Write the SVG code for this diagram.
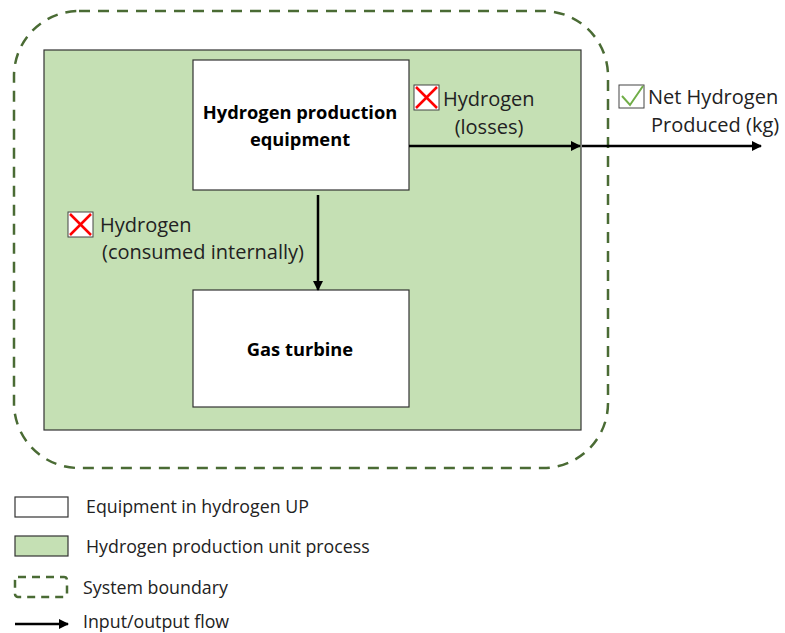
<svg xmlns="http://www.w3.org/2000/svg" width="785" height="633" viewBox="0 0 785 633">
<style>
text{font-family:"Open Sans","Liberation Sans",sans-serif;fill:#222;}
.lbl{font-size:20px;}
.leg{font-size:17.8px;}
.bold{font-size:18.3px;font-weight:bold;fill:#000;}
.eq{fill:#fff;stroke:#333;stroke-width:1.2;}
.up{fill:#c5e0b4;stroke:#333;stroke-width:1.2;}
.bd{fill:none;stroke:#4a6b34;stroke-width:2.5;stroke-dasharray:11,8;}
.flow{stroke:#000;stroke-width:2.5;fill:none;}
.xb{fill:#fff;stroke:#444;stroke-width:1;}
.xl{stroke:#ff0000;stroke-width:2.5;}
</style>
<defs>
<marker id="ah" markerWidth="10" markerHeight="10" refX="9" refY="5" orient="auto" markerUnits="userSpaceOnUse" viewBox="0 0 10 10">
<path d="M0,0 L10,5 L0,10 z" fill="#000"/>
</marker>
<g id="xmark">
<rect class="xb" x="0" y="0" width="25" height="25"/>
<line class="xl" x1="2" y1="2" x2="23" y2="23"/>
<line class="xl" x1="23" y1="2" x2="2" y2="23"/>
</g>
</defs>
<g id="boundary">
<rect class="bd" x="14" y="11" width="594" height="457" rx="65" ry="65"/>
</g>
<g id="unit-process">
<rect class="up" x="44" y="50" width="537" height="380"/>
</g>
<g id="h2-equipment">
<rect class="eq" x="193" y="60" width="216" height="130"/>
<text class="bold" x="300" y="119" text-anchor="middle">Hydrogen production</text>
<text class="bold" x="300" y="146" text-anchor="middle">equipment</text>
</g>
<g id="gas-turbine">
<rect class="eq" x="193" y="290" width="216" height="117"/>
<text class="bold" x="300" y="356" text-anchor="middle">Gas turbine</text>
</g>
<g id="connectors">
<line class="flow" x1="318" y1="195" x2="318" y2="290" marker-end="url(#ah)"/>
<line class="flow" x1="409" y1="146" x2="580" y2="146" marker-end="url(#ah)"/>
<line class="flow" x1="582" y1="146" x2="761" y2="146" marker-end="url(#ah)"/>
</g>
<g id="label-losses">
<use href="#xmark" x="414" y="85"/>
<text class="lbl" x="443" y="106">Hydrogen</text>
<text class="lbl" x="489" y="134" text-anchor="middle">(losses)</text>
</g>
<g id="label-internal">
<use href="#xmark" x="68" y="212"/>
<text class="lbl" x="100" y="232">Hydrogen</text>
<text class="lbl" x="102" y="259">(consumed internally)</text>
</g>
<g id="label-net">
<rect class="xb" x="619" y="85" width="25" height="23"/>
<path d="M622,96 L630,105 L643,86" fill="none" stroke="#70ad47" stroke-width="2"/>
<text class="lbl" x="648" y="104">Net Hydrogen</text>
<text class="lbl" x="651" y="132">Produced (kg)</text>
</g>
<g id="legend">
<rect class="eq" x="15" y="497" width="53" height="20"/>
<text class="leg" x="86" y="513">Equipment in hydrogen UP</text>
<rect class="up" x="15" y="536" width="53" height="20"/>
<text class="leg" x="86" y="553">Hydrogen production unit process</text>
<rect x="15" y="577" width="52" height="20" rx="3" fill="none" stroke="#4a6b34" stroke-width="2.5" stroke-dasharray="8,6"/>
<text class="leg" x="83" y="594">System boundary</text>
<line class="flow" x1="15" y1="624" x2="68" y2="624" marker-end="url(#ah)"/>
<text class="leg" x="83" y="628">Input/output flow</text>
</g>
</svg>
